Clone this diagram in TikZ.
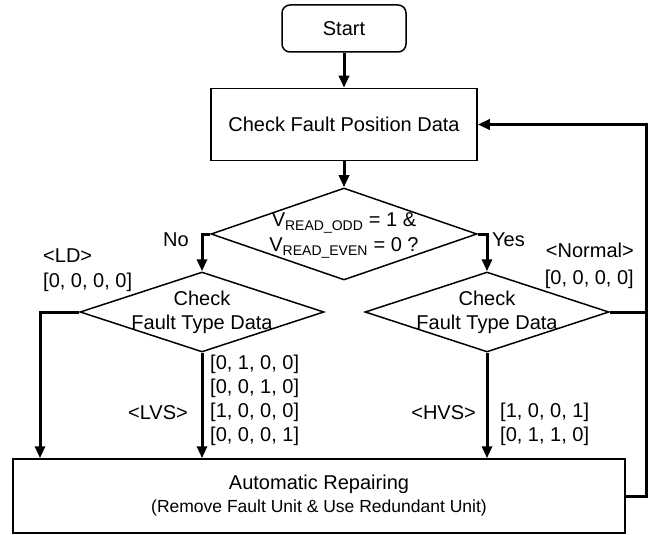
\documentclass[tikz,border=0pt]{standalone}
\usepackage{fontspec}
\setmainfont{Liberation Sans}
\usetikzlibrary{shapes.geometric, positioning, arrows.meta}
\tikzset{
	>={Triangle[width=10pt,length=12pt]},
	every node/.style={font=\fontsize{20}{24}\selectfont},
	startbox/.style={draw, line width=1.5pt, rounded corners=8pt, minimum width=124pt, minimum height=47pt},
	procbox/.style={draw, line width=1.5pt},
	decision/.style={draw, diamond, line width=1.5pt, inner sep=0pt},
	flow/.style={line width=3pt},
	lbl/.style={inner sep=0pt},
}

\begin{document}
\begin{tikzpicture}[x=1pt, y=-1pt]
			\useasboundingbox (0,0) rectangle (654,535);
			\node[startbox] (start) at (344,28.5) {Start};
			\node[procbox, minimum width=266pt, minimum height=72pt, below=35pt of start] (pos) {Check Fault Position Data};
			\node[decision, minimum width=266pt, minimum height=92pt, below=26pt of pos] (cond) {};
			\node[lbl, align=center] (condtext) at ([yshift=-1.5pt]cond.center) {V\textsubscript{READ\_ODD} = 1 \&\\[1pt]V\textsubscript{READ\_EVEN} = 0 ?};
			\node[decision, minimum width=244pt, minimum height=80pt] (ftl) at (202,312) {};
			\node[lbl, align=center] (ftltext) at (ftl.center) {Check\\Fault Type Data};
			\node[decision, minimum width=244pt, minimum height=80pt] (ftr) at (487,312) {};
			\node[lbl, align=center] (ftrtext) at (ftr.center) {Check\\Fault Type Data};
			\node[procbox, minimum width=612pt, minimum height=74pt, align=center] (repair) at (319,496) {Automatic Repairing\\[-1pt]{\fontsize{17.5}{20}\selectfont (Remove Fault Unit \& Use Redundant Unit)}};
			\coordinate (ldcorner) at (40,312);
			\coordinate (fbcorner) at (646,496);
			
			\draw[flow, ->] (start) -- (pos);
			\draw[flow, ->] (pos) -- (cond);
			\draw[flow, ->] (cond.west) -| (ftl.north);
			\draw[flow, ->] (cond.east) -| (ftr.north);
			\draw[flow, ->] (ftl.west) -- (ldcorner) -- (ldcorner |- repair.north);
			\draw[flow, ->] (ftl.south) -- (ftl.south |- repair.north);
			\draw[flow, ->] (ftr.south) -- (ftr.south |- repair.north);
			\draw[flow] (ftr.east) -- (ftr.east -| fbcorner);
			\draw[flow, ->] (repair.east) -- (fbcorner) |- (pos.east);
			
			\node[lbl, anchor=east] (nolbl) at (189,240) {No};
			\node[lbl, anchor=west] (yeslbl) at (492,240) {Yes};
			\node[lbl, anchor=west, align=left] (ldlbl) at (43,270) {\textless LD\textgreater\\[1pt]{[}0, 0, 0, 0{]}};
			\node[lbl, anchor=east, align=right] (normallbl) at (634,266) {\textless Normal\textgreater\\[3pt]{[}0, 0, 0, 0{]}};
			\node[lbl, anchor=east] (lvslbl) at (188,413) {\textless LVS\textgreater};
			\node[lbl, anchor=west, align=left] (lvsval) at (210,400) {{[}0, 1, 0, 0{]}\\{[}0, 0, 1, 0{]}\\{[}1, 0, 0, 0{]}\\{[}0, 0, 0, 1{]}};
			\node[lbl, anchor=east] (hvslbl) at (476,413) {\textless HVS\textgreater};
			\node[lbl, anchor=west, align=left] (hvsval) at (500,424.5) {{[}1, 0, 0, 1{]}\\{[}0, 1, 1, 0{]}};
		\end{tikzpicture}
\end{document}
